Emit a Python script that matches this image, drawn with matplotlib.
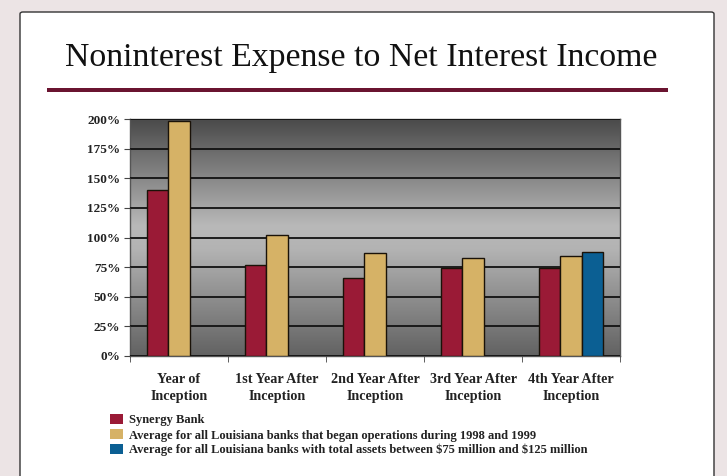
import numpy as np
import matplotlib.pyplot as plt
from matplotlib.patches import FancyBboxPatch, Rectangle
from matplotlib.colors import LinearSegmentedColormap

# data
categories = ['Year of\nInception', '1st Year After\nInception', '2nd Year After\nInception',
              '3rd Year After\nInception', '4th Year After\nInception']
synergy = [140, 77, 66, 74, 74]
avg_9899 = [198, 102, 87, 83, 84]
avg_size = [np.nan, np.nan, np.nan, np.nan, 88]
series_names = ['Synergy Bank',
                'Average for all Louisiana banks that began operations during 1998 and 1999',
                r'Average for all Louisiana banks with total assets between \$75 million and \$125 million']
yticks = [0, 25, 50, 75, 100, 125, 150, 175, 200]

serif = ['Liberation Serif', 'DejaVu Serif']
colors = ['#9a1a36', '#d6b266', '#0b5f93']

fig = plt.figure(figsize=(7.27, 4.76), dpi=100)
fig.patch.set_facecolor('#ece4e5')

# white panel
panel = FancyBboxPatch((20/727, -0.05), (714-20)/727, 1.05 - 12/476,
                       boxstyle='round,pad=0,rounding_size=0.004',
                       transform=fig.transFigure, facecolor='white',
                       edgecolor='#333333', linewidth=1.0, zorder=-5)
fig.patches.append(panel)

fig.text(0.497, 1 - 58/476, 'Noninterest Expense to Net Interest Income',
         family=serif, fontsize=24.3, ha='center', va='center', color='#111111')
fig.patches.append(Rectangle((47/727, 1 - 92/476), (668-47)/727, 4/476,
                             transform=fig.transFigure, facecolor='#6a1430',
                             edgecolor='none', zorder=-4))

ax = fig.add_axes([130/727, 1 - 356/476, (620-130)/727, (356-119)/476])

# gradient background
bg = LinearSegmentedColormap.from_list('bg', [(0, '#4a4a4a'), (0.2, '#7c7c7c'),
                                              (0.45, '#b9b9b9'), (0.55, '#b3b3b3'),
                                              (0.8, '#868686'), (1, '#626262')])
grad = np.linspace(0, 1, 256).reshape(-1, 1)
ax.imshow(grad, cmap=bg, aspect='auto', extent=[0, 1, 0, 1],
          transform=ax.transAxes, zorder=0)

x = np.arange(len(categories))
w = 0.215
for i, (vals, c) in enumerate(zip([synergy, avg_9899, avg_size], colors)):
    ax.bar(x + (i - 1) * w, vals, width=w, color=c, edgecolor='#1a1208',
           linewidth=1.0, zorder=3, label=series_names[i])

ax.set_xlim(-0.5, len(categories) - 0.5)
ax.set_ylim(0, 200)
ax.set_yticks(yticks)
ax.set_yticklabels([f'{v}%' for v in yticks], family=serif, fontsize=9.5,
                   fontweight='bold', color='#222222')
ax.yaxis.grid(True, color='#111111', linewidth=1.3, zorder=1)
ax.set_axisbelow(False)
ax.set_xticks(x)
ax.set_xticklabels(categories, family=serif, fontsize=10.2, fontweight='bold',
                   color='#222222', linespacing=1.4)
ax.set_xticks(np.arange(len(categories) + 1) - 0.5, minor=True)
ax.tick_params(axis='x', which='major', length=0, pad=12)
ax.tick_params(axis='x', which='minor', length=4, color='#444444', direction='out')
ax.tick_params(axis='y', length=4, color='#444444', pad=3)
for s in ax.spines.values():
    s.set_color('#555555')
    s.set_linewidth(1.0)

leg = fig.legend(loc='upper left', bbox_to_anchor=(110/727, 1 - 414/476),
                 frameon=False, prop={'family': serif, 'size': 9, 'weight': 'bold'},
                 handlelength=1.0, handleheight=0.9, handletextpad=0.5,
                 labelspacing=0.2, borderaxespad=0, borderpad=0)
for h in leg.legend_handles:
    h.set_edgecolor('none')
for t in leg.get_texts():
    t.set_color('#222222')

fig.savefig('out.png', dpi=100, facecolor=fig.get_facecolor())
